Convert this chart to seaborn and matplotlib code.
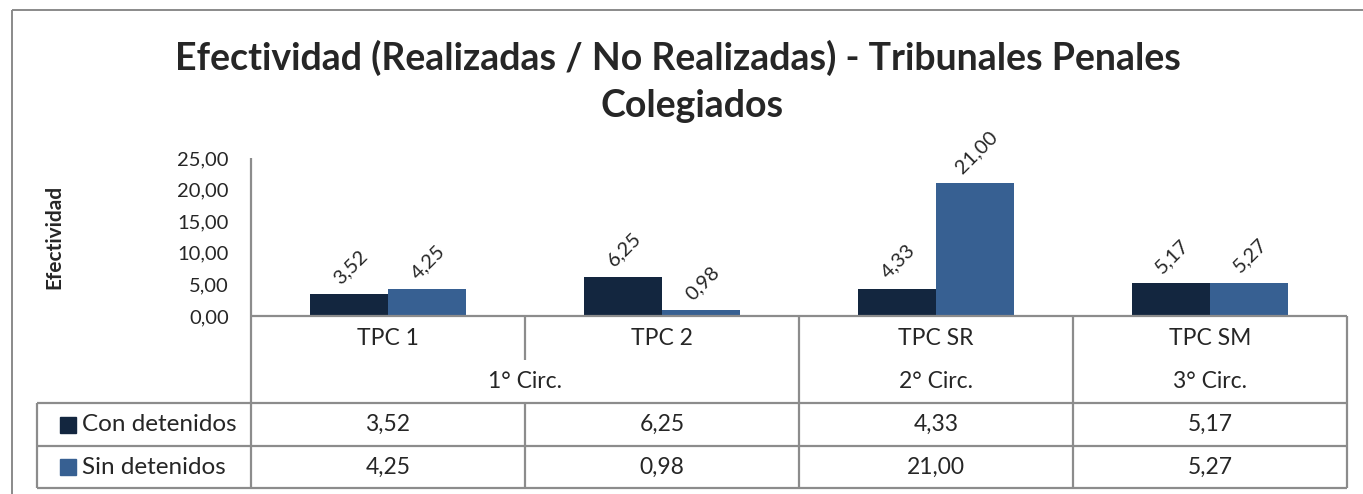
import matplotlib
matplotlib.use("Agg")
import matplotlib.pyplot as plt
import seaborn as sns
import pandas as pd
from matplotlib.lines import Line2D
from matplotlib.patches import Rectangle

# ---------------- data ----------------
categories = ["TPC 1", "TPC 2", "TPC SR", "TPC SM"]
circ_labels = ["1° Circ.", "2° Circ.", "3° Circ."]
circ_spans = [(0, 2), (2, 3), (3, 4)]
series_names = ["Con detenidos", "Sin detenidos"]
con_detenidos = [3.52, 6.25, 4.33, 5.17]
sin_detenidos = [4.25, 0.98, 21.00, 5.27]
y_ticks = [0, 5, 10, 15, 20, 25]
title_line1 = "Efectividad (Realizadas / No Realizadas) - Tribunales Penales"
title_line2 = "Colegiados"
y_label = "Efectividad"

DARK = "#13263F"
LIGHT = "#376092"
GRID = "#8C8C8C"


def fmt(v):
    return f"{v:.2f}".replace(".", ",")


sns.set_style("white")
plt.rcParams['font.family'] = ['Lato', 'DejaVu Sans']

W, H = 1363, 494
fig = plt.figure(figsize=(W / 100, H / 100), dpi=100)


def fx(x):
    return x / W


def fy(y):
    return 1 - y / H


# plot-area geometry (pixels)
X0, X1 = 251, 1347
Y_TOP, Y_ZERO = 158, 316
ROW_CIRC, ROW_D1, ROW_D2, ROW_END = 360, 403, 446, 488
TBL_LEFT = 37

ax = fig.add_axes([fx(X0), fy(Y_ZERO), (X1 - X0) / W, (Y_ZERO - Y_TOP) / H])

df = pd.DataFrame({
    "cat": categories * 2,
    "serie": [series_names[0]] * len(categories) + [series_names[1]] * len(categories),
    "val": con_detenidos + sin_detenidos,
})
sns.barplot(data=df, x="cat", y="val", hue="serie", palette=[DARK, LIGHT],
            width=0.571, saturation=1, errorbar=None, legend=False, ax=ax,
            edgecolor="none", linewidth=0)

ax.set_xlim(-0.5, len(categories) - 0.5)
ax.set_ylim(0, 25)
ax.set_yticks(y_ticks)
ax.set_yticklabels([fmt(v) for v in y_ticks], fontsize=14.5)
ax.tick_params(axis="y", length=0, pad=16)
ax.set_xticks([])
ax.set_xlabel("")
ax.set_ylabel("")
for s in ["top", "right", "bottom", "left"]:
    ax.spines[s].set_visible(False)

# data labels
for cont in ax.containers:
    for bar in cont:
        h = bar.get_height()
        ax.annotate(fmt(h), xy=(bar.get_x() + bar.get_width() / 2, h),
                    xytext=(1, 5), textcoords="offset points", rotation=45,
                    ha="center", va="bottom", fontsize=14.5, annotation_clip=False)

# y label
fig.text(fx(54), fy(237), y_label, rotation=90, ha="center", va="center",
         fontsize=15, fontweight="bold")

# title
fig.text(fx(678), fy(58), title_line1, ha="center", va="center",
         fontsize=27, fontweight="bold")
fig.text(fx(692), fy(106), title_line2, ha="center", va="center",
         fontsize=27, fontweight="bold")


def hline(y, xa, xb, color=GRID, lw=1.6):
    fig.add_artist(Line2D([fx(xa), fx(xb)], [fy(y), fy(y)], color=color, lw=lw,
                          solid_capstyle="butt"))


def vline(x, ya, yb, color=GRID, lw=1.6):
    fig.add_artist(Line2D([fx(x), fx(x)], [fy(ya), fy(yb)], color=color, lw=lw,
                          solid_capstyle="butt"))


# chart frame
hline(10, 12, W, color="#8A8A8A", lw=1.4)
vline(12, 10, H, color="#8A8A8A", lw=1.4)

# column boundaries
n = len(categories)
col_w = (X1 - X0) / n
col_edges = [X0 + i * col_w for i in range(n + 1)]

# axis & table lines
vline(X0, Y_TOP, ROW_END)
hline(Y_ZERO, X0, X1)
hline(ROW_D1, TBL_LEFT, X1)
hline(ROW_D2, TBL_LEFT, X1)
hline(ROW_END, TBL_LEFT, X1)
vline(TBL_LEFT, ROW_D1, ROW_END)
circ_edges = {col_edges[a] for a, b in circ_spans} | {col_edges[b] for a, b in circ_spans}
for e in col_edges[1:]:
    if e in circ_edges:
        vline(e, Y_ZERO, ROW_END)
    else:
        vline(e, Y_ZERO, ROW_CIRC)
        vline(e, ROW_D1, ROW_END)

FS = 16.5
# category labels
for i, c in enumerate(categories):
    fig.text(fx(X0 + (i + 0.5) * col_w), fy(338), c, ha="center", va="center", fontsize=FS)
# circ labels
for lab, (a, b) in zip(circ_labels, circ_spans):
    fig.text(fx((col_edges[a] + col_edges[b]) / 2), fy(381), lab, ha="center",
             va="center", fontsize=FS)
# data rows
rows = [(con_detenidos, DARK, series_names[0], (ROW_D1 + ROW_D2) / 2),
        (sin_detenidos, LIGHT, series_names[1], (ROW_D2 + ROW_END) / 2)]
for vals, col, name, yc in rows:
    for i, v in enumerate(vals):
        fig.text(fx(X0 + (i + 0.5) * col_w), fy(yc), fmt(v), ha="center",
                 va="center", fontsize=FS)
    fig.add_artist(Rectangle((fx(60), fy(yc + 8)), 16 / W, 16 / H, color=col,
                             transform=fig.transFigure))
    fig.text(fx(82), fy(yc), name, ha="left", va="center", fontsize=17.5)

fig.savefig("out.png", dpi=100)
